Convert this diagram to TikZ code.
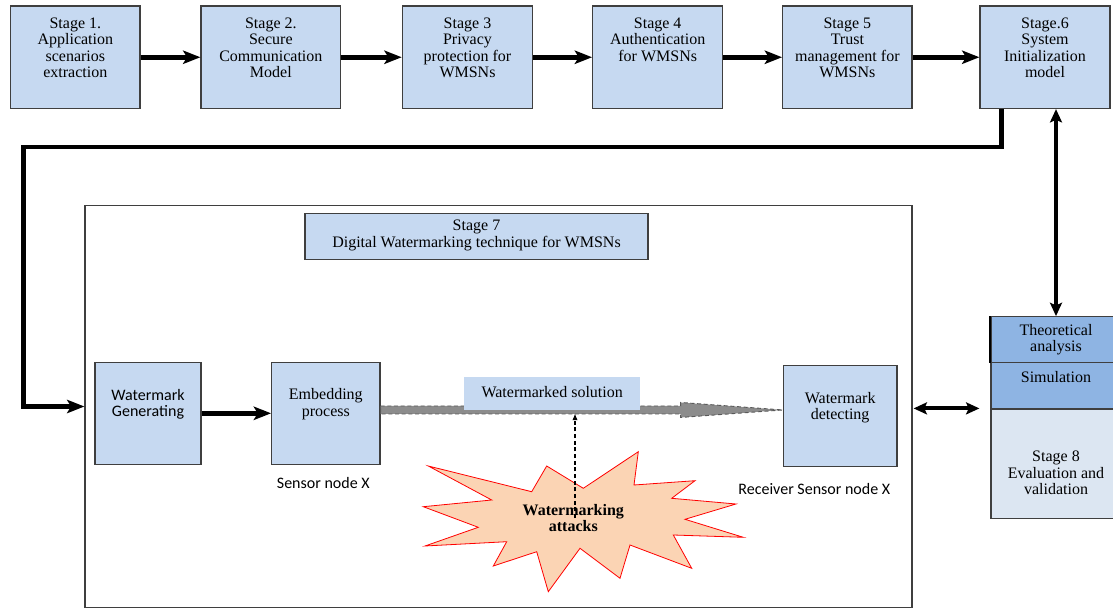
\documentclass[tikz,border=0pt]{standalone}
\usepackage{fontspec}
\setmainfont{Liberation Serif}
\setsansfont{Carlito}
\usetikzlibrary{arrows.meta,positioning,calc,fit}

\definecolor{stageblue}{HTML}{C6D9F1}
\definecolor{evalblue}{HTML}{8EB4E3}
\definecolor{evallight}{HTML}{DCE6F2}
\definecolor{attackfill}{HTML}{FBD4B4}
\definecolor{edgegray}{HTML}{3F3F3F}

\begin{document}
\begin{tikzpicture}[
  x=0.75pt, y=-0.75pt,
  font=\fontsize{12}{12.4}\selectfont,
  stagebox/.style={draw=edgegray, fill=stageblue, line width=0.9pt, inner sep=0pt},
  boxtext/.style={anchor=north, align=center, inner sep=0pt},
  sidetext/.style={font=\sffamily\fontsize{12}{12.4}\selectfont, inner sep=0pt},
  flow/.style={line width=3.6pt, -{Stealth[length=13pt, width=10pt, inset=3pt]}},
  twoway/.style={line width=3pt,
    {Stealth[length=10pt, width=9pt, inset=2pt]}-{Stealth[length=10pt, width=9pt, inset=2pt]}},
  wmarrow/.style={fill=gray!90, draw=black!65, densely dashed, line width=0.7pt},
  attackstar/.style={fill=attackfill, draw=red, line width=0.6pt},
]
  % Scale: 1px = 0.75pt, y grows downwards (0 at top)
  \useasboundingbox (0,0) rectangle (1113,609);

  % Stages 1 to 6
  \foreach \i/\xl/\xr/\txt in {
    1/10.7/140/{Stage 1.\\Application\\scenarios\\extraction},
    2/201/340.7/{Stage 2.\\Secure\\Communication\\Model},
    3/402.3/532.7/{Stage 3\\Privacy\\protection for\\WMSNs},
    4/592.7/722.7/{Stage 4\\Authentication\\for WMSNs},
    5/782.7/912/{Stage 5\\Trust\\management for\\WMSNs},
    6/980/1110/{Stage.6\\System\\Initialization\\model}%
  }{
    \node[stagebox, fit={(\xl,6) (\xr,108.5)}] (s\i) {};
    \node[boxtext] (t\i) at ([yshift=-9pt]s\i.north) {\txt};
  }
  \foreach \a/\b in {1/2, 2/3, 3/4, 4/5, 5/6}
    \draw[flow] (s\a) -- (s\b);

  % Stage 7 frame
  \node[draw=edgegray, line width=0.9pt, inner sep=0pt, fit={(85,205.7) (912,607.3)}] (frame) {};
  \node[stagebox, fit={(305,213.3) (648,259.3)}] (s7) {};
  \node[align=center, inner sep=0pt] (t7) at ([yshift=0.5pt]s7.center)
    {Stage 7\\Digital Watermarking technique for WMSNs};

  % back from stage 6 into the frame
  \coordinate (turnA) at (1001.7,147);
  \coordinate (turnB) at (23.3,147);
  \draw[flow] (s6.south -| turnA) -- (turnA) -- (turnB) -- (turnB |- frame.west) -- (frame.west);

  % Watermarking chain
  \node[stagebox, fit={(95,362.3) (201,464.3)}] (gen) {};
  \node[boxtext, sidetext] (gent) at ([yshift=-20.5pt]gen.north) {Watermark\\Generating};
  \node[stagebox, fit={(271.7,362.3) (380,464.3)}] (emb) {};
  \node[boxtext] (embt) at ([yshift=-19.8pt]emb.north) {Embedding\\process};
  \node[stagebox, fit={(783.3,365.7) (897,466.7)}] (det) {};
  \node[boxtext] (dett) at ([yshift=-20pt]det.north) {Watermark\\detecting};
  \draw[flow] (gen) -- (emb);

  \node[sidetext] (sensorX) at (323.3,482.7) {Sensor node X};
  \node[sidetext] (receiverX) at (814.3,489.3) {Receiver Sensor node X};

  % watermarked data flow (dashed outline arrow)
  \coordinate (wmtail) at ([yshift=2.5pt]emb.east);
  \coordinate (wmtip) at (wmtail -| det.west);
  \draw[wmarrow] ($(wmtail)+(0,-4)$) -- ($(wmtip)+(-102,-4)$) -- ($(wmtip)+(-102,-7.5)$)
    -- (wmtip) -- ($(wmtip)+(-102,7.5)$) -- ($(wmtip)+(-102,4)$) -- ($(wmtail)+(0,4)$) -- cycle;
  \node[fill=stageblue, inner sep=0pt, fit={(464.4,376.5) (640,410)}] (wmsol) {};
  \node[inner sep=0pt] (wmsolt) at ([yshift=1pt]wmsol.center) {Watermarked solution};

  % Attacks
  \draw[attackstar] (428.3,466) -- (531.7,491.7) -- (546.7,466) -- (583.3,488.3)
    -- (638.3,451.7) -- (634,485) -- (695,480.7) -- (671.7,498.3) -- (736,504)
    -- (685,519.3) -- (743.3,537.3) -- (673.3,535) -- (691.7,568.3) -- (630,545)
    -- (620,578.3) -- (580,548.3) -- (548.3,591.7) -- (536.7,551.7) -- (493.3,566)
    -- (506.7,541.7) -- (425,546) -- (478.3,527.3) -- (423.3,506.7) -- (491.7,500) -- cycle;
  \node[align=center, font=\bfseries\fontsize{12}{12.4}\selectfont] (attack) at (573.3,518)
    {Watermarking\\attacks};
  \coordinate (hit) at (575,413.5);
  \draw[densely dashed, line width=0.8pt, -{Latex[length=5pt, width=4pt]}] (attack.center -| hit) -- (hit);

  % Stage 8
  \node[draw=edgegray, line width=0.9pt, fill=evalblue, inner sep=0pt,
    fit={(991,316.7) (1121,362.3)}] (theo) {};
  \node[align=center, inner sep=0pt] (theot) at (theo.center) {Theoretical\\analysis};
  \node[draw=edgegray, line width=0.9pt, fill=evalblue, inner sep=0pt,
    fit={(991,362.3) (1121,409)}] (simu) {};
  \node[boxtext] (simut) at ([yshift=-6.8pt]simu.north) {Simulation};
  \node[draw=edgegray, line width=0.9pt, fill=evallight, inner sep=0pt,
    fit={(991,409) (1121,518.3)}] (eval8) {};
  \node[boxtext] (evalt) at ([yshift=-31.8pt]eval8.north) {Stage 8\\Evaluation and\\validation};
  \draw[line width=1.6pt] (theo.north west) -- (theo.south west);

  \draw[twoway] (theo.north) -- (theo.north |- s6.south);
  \draw[twoway] ($(frame.east |- eval8.north west)+(1,0)$) -- ($(eval8.north west)+(-11,0)$);

\end{tikzpicture}
\end{document}
